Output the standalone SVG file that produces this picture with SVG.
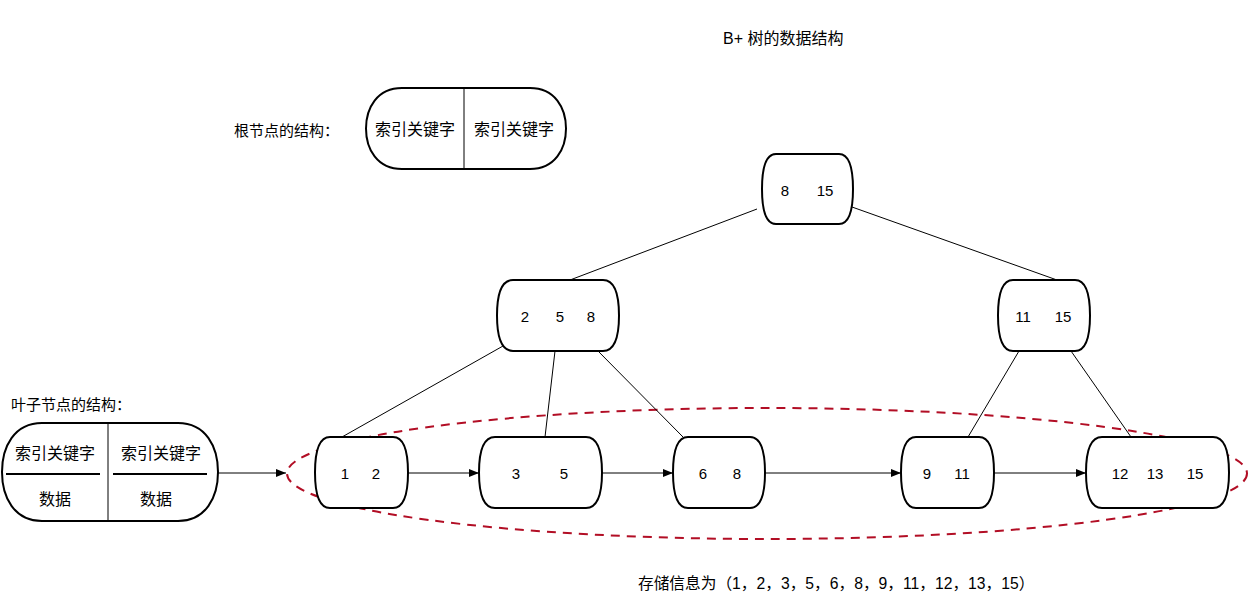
<svg xmlns="http://www.w3.org/2000/svg" width="1253" height="599" viewBox="0 0 1253 599">
<style>
text{font-family:"Liberation Sans","Noto Sans CJK SC",sans-serif;font-size:15px;fill:#000}
.c{text-anchor:middle;dominant-baseline:central}
.k{font-size:16px}
.n{fill:#fff;stroke:#000;stroke-width:2}
.e{stroke:#000;stroke-width:1;fill:none}
.a{stroke:#000;stroke-width:1;fill:none;marker-end:url(#ah)}
</style>
<defs>
<marker id="ah" viewBox="0 0 10 8" refX="10" refY="4" markerWidth="10" markerHeight="8" markerUnits="userSpaceOnUse" orient="auto"><path d="M0,0 L10,4 L0,8 Z" fill="#000"/></marker>
</defs>
<rect width="1253" height="599" fill="#fff"/>
<text class="k" x="723" y="38" dominant-baseline="central">B+ 树的数据结构</text>
<text x="234" y="130" dominant-baseline="central">根节点的结构：</text>
<text x="11" y="404" dominant-baseline="central">叶子节点的结构：</text>
<text x="638" y="583" dominant-baseline="central" style="font-size:15.7px">存储信息为（1，2，3，5，6，8，9，11，12，13，15）</text>
<ellipse cx="767" cy="473.5" rx="480" ry="65.5" fill="none" stroke="#b20e25" stroke-width="2" stroke-dasharray="9,7"/>
<g id="connectors">
<line class="e" x1="757" y1="209" x2="570" y2="280"/>
<line class="e" x1="852" y1="207" x2="1057" y2="280"/>
<line class="e" x1="503" y1="346" x2="342" y2="437"/>
<line class="e" x1="555" y1="351" x2="545" y2="437"/>
<line class="e" x1="598" y1="351" x2="683" y2="437"/>
<line class="e" x1="1019" y1="351" x2="968" y2="437"/>
<line class="e" x1="1071" y1="351" x2="1131" y2="437"/>
<line class="a" x1="408" y1="473" x2="479" y2="473"/>
<line class="a" x1="602" y1="473" x2="673" y2="473"/>
<line class="a" x1="765" y1="473" x2="901" y2="473"/>
<line class="a" x1="994" y1="473" x2="1086" y2="473"/>
<line class="a" x1="218" y1="473" x2="286" y2="473"/>
</g>
<g id="root-struct">
<path class="n" d="M402,88 H530 C555,88 566,108 566,128.5 C566,149 555,169 530,169 H402 C377,169 366,149 366,128.5 C366,108 377,88 402,88 Z"/>
<line class="e" x1="464" y1="88" x2="464" y2="169"/>
<text class="c k" x="415" y="129.5">索引关键字</text>
<text class="c k" x="514" y="129.5">索引关键字</text>
</g>
<g id="leaf-struct">
<path class="n" d="M42,423 H178 C206,423 218,447 218,472 C218,497 206,521 178,521 H42 C14,521 2,497 2,472 C2,447 14,423 42,423 Z"/>
<line class="e" x1="108" y1="423" x2="108" y2="521"/>
<line x1="6" y1="474" x2="100" y2="474" stroke="#000" stroke-width="2"/>
<line x1="113" y1="474" x2="207" y2="474" stroke="#000" stroke-width="2"/>
<text class="c k" x="55" y="453">索引关键字</text>
<text class="c k" x="161" y="453">索引关键字</text>
<text class="c k" x="55" y="499.5">数据</text>
<text class="c k" x="156" y="499.5">数据</text>
</g>
<g id="root">
<path class="n" d="M776,154 H839 C848.8,154 853,168 853,189 C853,210 848.8,224 839,224 H776 C766.2,224 762,210 762,189 C762,168 766.2,154 776,154 Z"/>
<text class="c" x="785" y="190">8</text>
<text class="c" x="825" y="190">15</text>
</g>
<g id="n258">
<path class="n" d="M513,280 H603 C614.2,280 619,294 619,315.5 C619,337 614.2,351 603,351 H513 C501.8,351 497,337 497,315.5 C497,294 501.8,280 513,280 Z"/>
<text class="c" x="525" y="316">2</text>
<text class="c" x="560" y="316">5</text>
<text class="c" x="591" y="316">8</text>
</g>
<g id="n1115">
<path class="n" d="M1013,280 H1075 C1085.5,280 1090,294 1090,315.5 C1090,337 1085.5,351 1075,351 H1013 C1002.5,351 998,337 998,315.5 C998,294 1002.5,280 1013,280 Z"/>
<text class="c" x="1023" y="316">11</text>
<text class="c" x="1063" y="316">15</text>
</g>
<g id="leaf1">
<path class="n" d="M330,437 H393 C403.5,437 408,451 408,472.5 C408,494 403.5,508 393,508 H330 C319.5,508 315,494 315,472.5 C315,451 319.5,437 330,437 Z"/>
<text class="c" x="345" y="473">1</text>
<text class="c" x="376" y="473">2</text>
</g>
<g id="leaf2">
<path class="n" d="M495,437 H586 C597.2,437 602,451 602,472.5 C602,494 597.2,508 586,508 H495 C483.8,508 479,494 479,472.5 C479,451 483.8,437 495,437 Z"/>
<text class="c" x="516" y="473">3</text>
<text class="c" x="564" y="473">5</text>
</g>
<g id="leaf3">
<path class="n" d="M688,437 H750 C760.5,437 765,451 765,472.5 C765,494 760.5,508 750,508 H688 C677.5,508 673,494 673,472.5 C673,451 677.5,437 688,437 Z"/>
<text class="c" x="703" y="473">6</text>
<text class="c" x="737" y="473">8</text>
</g>
<g id="leaf4">
<path class="n" d="M916,437 H979 C989.5,437 994,451 994,472.5 C994,494 989.5,508 979,508 H916 C905.5,508 901,494 901,472.5 C901,451 905.5,437 916,437 Z"/>
<text class="c" x="927" y="473">9</text>
<text class="c" x="962" y="473">11</text>
</g>
<g id="leaf5">
<path class="n" d="M1102,437 H1213 C1224.2,437 1229,451 1229,472.5 C1229,494 1224.2,508 1213,508 H1102 C1090.8,508 1086,494 1086,472.5 C1086,451 1090.8,437 1102,437 Z"/>
<text class="c" x="1120" y="473">12</text>
<text class="c" x="1155" y="473">13</text>
<text class="c" x="1195" y="473">15</text>
</g>
</svg>
